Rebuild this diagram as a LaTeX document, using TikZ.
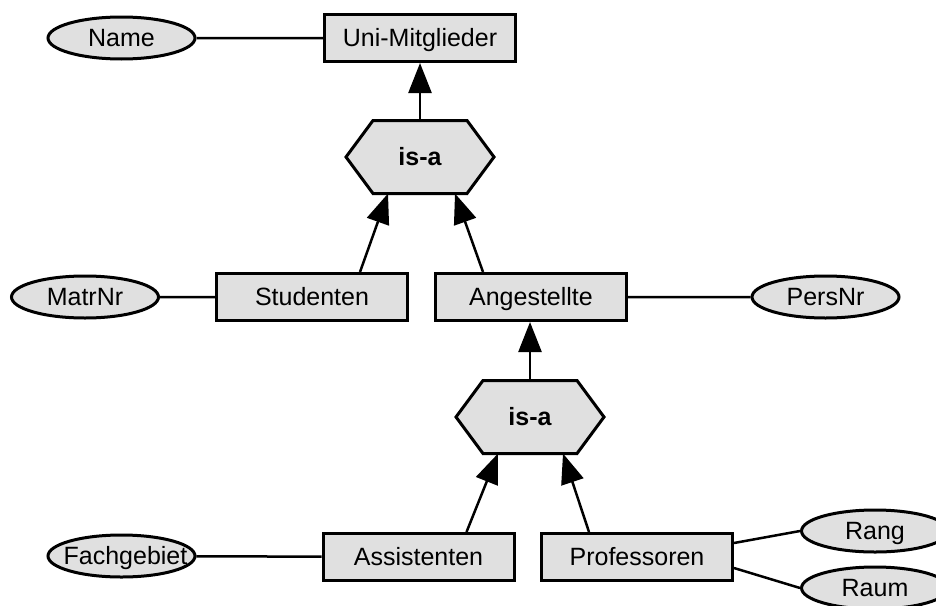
\documentclass[tikz,border=0pt]{standalone}
\usepackage{fontspec}
\setmainfont{Liberation Sans}
\usepackage{xcolor}
\usetikzlibrary{shapes.geometric,arrows.meta,backgrounds}
\definecolor{boxgray}{HTML}{E0E0E0}

\begin{document}
\begin{tikzpicture}[x=1pt,y=-1pt,
        every node/.style={font=\fontsize{25}{29}\selectfont,text height=19pt,text depth=3pt},
        entity node/.style={rectangle,draw,line width=3pt,fill=boxgray,minimum width=191pt,minimum height=47pt,inner sep=0pt},
        attr node/.style={ellipse,draw,line width=3pt,fill=boxgray,minimum width=147pt,minimum height=42pt,inner sep=0pt},
        isa node/.style={rectangle,minimum width=145pt,minimum height=70pt,outer sep=1.5pt,inner sep=0pt,font=\fontsize{25}{29}\selectfont\bfseries},
        hex line/.style={draw,line width=3pt,fill=boxgray,line join=miter},
        other edge/.style={draw,line width=2.5pt},
        isa edge/.style={draw,line width=2.5pt,-{Triangle[length=30pt,width=23pt]}}
      ]
      \useasboundingbox (0,0) rectangle (936,605);

      % entities
      \node[entity node] (uni)  at (420,38)   {Uni-Mitglieder};
      \node[entity node] (stud) at (312,297)  {Studenten};
      \node[entity node] (ang)  at (531,297)  {Angestellte};
      \node[entity node] (assi) at (418.5,557) {Assistenten};
      \node[entity node] (prof) at (637,557)  {Professoren};

      % attributes
      \node[attr node] (name) at (121.5,38)  {Name};
      \node[attr node] (matr) at (85,297)    {MatrNr};
      \node[attr node] (pers) at (825.5,297) {PersNr};
      \node[attr node] (fach) at (121.5,556) {\makebox[0pt]{\hspace{8pt}Fachgebiet}};
      \node[attr node] (rang) at (875,531) {Rang};
      \node[attr node] (raum) at (875,588) {Raum};

      % generalisations
      \node[isa node] (isa1) at (420,157) {is-a};
      \node[isa node] (isa2) at (530,417) {is-a};
      \begin{scope}[on background layer]
        \foreach \h in {isa1,isa2}
          \path[hex line] (\h.west) -- ([xshift=27pt]\h.north west) -- ([xshift=-27pt]\h.north east)
            -- (\h.east) -- ([xshift=-27pt]\h.south east) -- ([xshift=27pt]\h.south west) -- cycle;
      \end{scope}

      % attribute edges
      \path[other edge]
        (name) -- (uni)
        (matr) -- (stud)
        (ang) -- (pers)
        (fach) -- (assi)
        ([yshift=14pt]prof.east) -- (rang.west)
        ([yshift=-11pt]prof.east) -- (raum.west);

      % is-a edges
      \path[isa edge] (isa1.north) -- (uni.south);
      \path[isa edge] ([xshift=48pt]stud.north) -- ([xshift=-32pt]isa1.south);
      \path[isa edge] ([xshift=-48pt]ang.north) -- ([xshift=35pt]isa1.south);
      \path[isa edge] (isa2.north) -- (isa2.north |- ang.south);
      \path[isa edge] ([xshift=48pt]assi.north) -- ([xshift=-32pt]isa2.south);
      \path[isa edge] ([xshift=-48pt]prof.north) -- ([xshift=33pt]isa2.south);
    \end{tikzpicture}
\end{document}
